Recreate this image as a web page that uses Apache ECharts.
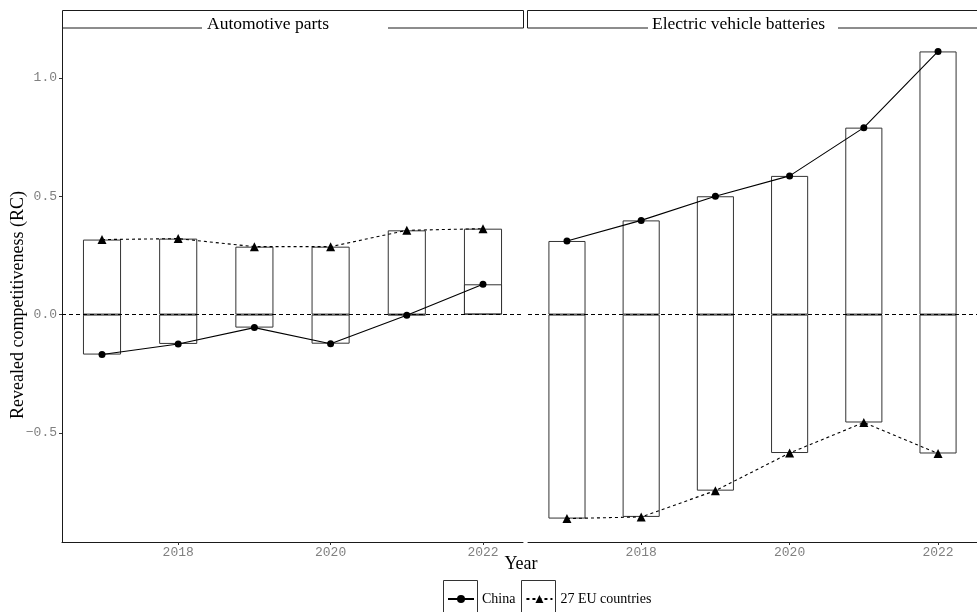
<!DOCTYPE html>
<html>
<head>
<meta charset="utf-8">
<script src="https://cdn.jsdelivr.net/npm/echarts@6/dist/echarts.min.js"></script>
<style>html,body{margin:0;padding:0;background:#fff;}#c{width:977px;height:612px;}</style>
</head>
<body>
<div id="c"></div>
<script>
const years = [2017, 2018, 2019, 2020, 2021, 2022];
const panels = ['Automotive parts', 'Electric vehicle batteries'];
const seriesNames = ['China', '27 EU countries'];
const autoChina = [-0.169, -0.124, -0.055, -0.123, -0.003, 0.128];
const autoEU = [0.317, 0.321, 0.287, 0.287, 0.356, 0.363];
const evbChina = [0.311, 0.398, 0.500, 0.586, 0.790, 1.112];
const evbEU = [-0.862, -0.855, -0.744, -0.585, -0.456, -0.587];
const yTicks = [-0.5, 0, 0.5, 1.0];
const xTicks = [2018, 2020, 2022];

const pair = arr => years.map((y, i) => [y, arr[i]]);
const serif = 'Liberation Serif';
const mono = 'Liberation Mono';

const chart = echarts.init(document.getElementById('c'), null, {renderer: 'canvas'});

const grids = [
  {left: 62, top: 28, width: 461, height: 514},
  {left: 528, top: 28, width: 461, height: 514}
];

function xAxis(i) {
  return {
    type: 'value', gridIndex: i, min: 2016.475, max: 2022.525,
    axisLine: {show: true, onZero: false, lineStyle: {color: '#1a1a1a', width: 1}},
    axisTick: {show: true, length: 3, customValues: xTicks, lineStyle: {color: '#333'}},
    axisLabel: {show: true, customValues: xTicks, margin: 4, color: '#808080', fontFamily: mono, fontSize: 13, formatter: v => String(v)},
    splitLine: {show: false}
  };
}
function yAxis(i) {
  const show = i === 0;
  return {
    type: 'value', gridIndex: i, min: -0.961, max: 1.211,
    axisLine: {show: show, onZero: false, lineStyle: {color: '#1a1a1a', width: 1}},
    axisTick: {show: show, length: 3, customValues: yTicks, lineStyle: {color: '#333'}},
    axisLabel: {show: show, customValues: yTicks, margin: 5, color: '#808080', fontFamily: mono, fontSize: 13,
      formatter: v => v.toFixed(1).replace('-', '\u2212')},
    splitLine: {show: false}
  };
}

function barSeries(name, data, gi) {
  return {
    name: name, type: 'bar', xAxisIndex: gi, yAxisIndex: gi,
    data: pair(data), barWidth: '50%', barGap: '-100%',
    itemStyle: {color: 'rgba(0,0,0,0)', borderColor: '#333', borderWidth: 1},
    emphasis: {disabled: true}, silent: true, z: 2,
    legendHoverLink: false
  };
}
function lineSeries(name, data, gi, isChina) {
  return {
    name: name, type: 'line', xAxisIndex: gi, yAxisIndex: gi,
    data: pair(data),
    symbol: isChina ? 'circle' : 'triangle',
    symbolSize: isChina ? 7 : 9,
    itemStyle: {color: '#000'},
    lineStyle: {color: '#000', width: 1.1, type: isChina ? 'solid' : [3, 3]},
    emphasis: {disabled: true}, silent: true, z: 4, animation: false
  };
}
function zeroLine(gi) {
  return {
    type: 'line', xAxisIndex: gi, yAxisIndex: gi, data: [],
    markLine: {
      silent: true, symbol: ['none', 'none'], label: {show: false},
      lineStyle: {color: '#000', width: 1, type: [4, 3]},
      data: [{yAxis: 0}]
    }, z: 1
  };
}

const series = [
  zeroLine(0), zeroLine(1),
  barSeries('barCN0', autoChina, 0), barSeries('barEU0', autoEU, 0),
  barSeries('barCN1', evbChina, 1), barSeries('barEU1', evbEU, 1),
  lineSeries(seriesNames[0], autoChina, 0, true), lineSeries(seriesNames[1], autoEU, 0, false),
  lineSeries(seriesNames[0], evbChina, 1, true), lineSeries(seriesNames[1], evbEU, 1, false)
];

const graphic = [
  // strips
  {type: 'rect', shape: {x: 62.5, y: 10.5, width: 461, height: 17.5}, style: {fill: 'none', stroke: '#1a1a1a', lineWidth: 1}, silent: true},
  {type: 'rect', shape: {x: 202, y: 19, width: 186, height: 14}, style: {fill: '#fff'}, silent: true},
  {type: 'text', x: 207, y: 24, style: {text: panels[0], font: '17.5px "Liberation Serif"', fill: '#000', verticalAlign: 'middle'}, silent: true},
  {type: 'rect', shape: {x: 527.5, y: 10.5, width: 470, height: 17.5}, style: {fill: 'none', stroke: '#1a1a1a', lineWidth: 1}, silent: true},
  {type: 'rect', shape: {x: 648, y: 19, width: 190, height: 14}, style: {fill: '#fff'}, silent: true},
  {type: 'text', x: 652, y: 24, style: {text: panels[1], font: '17.5px "Liberation Serif"', fill: '#000', verticalAlign: 'middle'}, silent: true},
  // axis titles
  {type: 'text', x: 18, y: 305, rotation: Math.PI / 2, style: {text: 'Revealed competitiveness (RC)', font: '18px "Liberation Serif"', fill: '#000', align: 'center', verticalAlign: 'middle'}, silent: true},
  {type: 'text', x: 521, y: 564, style: {text: 'Year', font: '18px "Liberation Serif"', fill: '#000', align: 'center', verticalAlign: 'middle'}, silent: true},
  // legend key boxes
  {type: 'rect', shape: {x: 443.5, y: 580.5, width: 34, height: 36}, style: {fill: 'none', stroke: '#333', lineWidth: 1}, silent: true},
  {type: 'rect', shape: {x: 521.5, y: 580.5, width: 34, height: 36}, style: {fill: 'none', stroke: '#333', lineWidth: 1}, silent: true}
];

chart.setOption({
  animation: false,
  backgroundColor: '#fff',
  grid: grids,
  xAxis: [xAxis(0), xAxis(1)],
  yAxis: [yAxis(0), yAxis(1)],
  legend: {
    data: seriesNames, left: 447, top: 592, padding: 0, itemWidth: 26, itemHeight: 10, itemGap: 10,
    textStyle: {fontFamily: serif, fontSize: 14, color: '#000', padding: [0, 0, 0, 3]},
    selectedMode: false
  },
  series: series,
  graphic: graphic
});
</script>
</body>
</html>
